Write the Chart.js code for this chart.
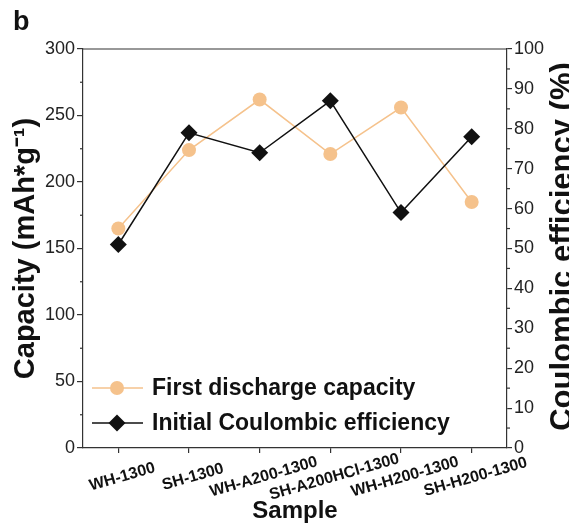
<!DOCTYPE html>
<html>
<head>
<meta charset="utf-8">
<script src="https://cdn.jsdelivr.net/npm/chart.js@4/dist/chart.umd.min.js"></script>
<style>
  body { margin: 0; background: #fff; overflow: hidden; }
</style>
</head>
<body>
<canvas id="chart" width="569" height="530"></canvas>
<script>
const samples = ['WH-1300', 'SH-1300', 'WH-A200-1300', 'SH-A200HCl-1300', 'WH-H200-1300', 'SH-H200-1300'];
const capacity = [165, 224, 262, 221, 256, 185];
const efficiency = [51, 79, 74, 87, 59, 78];
const capacityTicks = [0, 50, 100, 150, 200, 250, 300];
const efficiencyTicks = [0, 10, 20, 30, 40, 50, 60, 70, 80, 90, 100];

const ORANGE = '#F5C28C';
const BLACK = '#111111';
const AXIS = '#333333';
const sans = "'Liberation Sans', Arial, sans-serif";

// minor ticks, top frame line, rotated x labels, right title, legend, panel letter
const decorations = {
  id: 'decorations',
  afterDraw(chart) {
    const ctx = chart.ctx;
    const area = chart.chartArea;
    const x = chart.scales.x;
    const yL = chart.scales.y;
    const yR = chart.scales.y1;

    ctx.save();
    ctx.strokeStyle = AXIS;
    ctx.lineWidth = 1.2;
    ctx.beginPath();
    ctx.moveTo(area.left, area.top);
    ctx.lineTo(area.right, area.top);
    ctx.stroke();

    for (let v = 25; v < 300; v += 50) {
      const py = yL.getPixelForValue(v);
      ctx.beginPath();
      ctx.moveTo(area.left, py);
      ctx.lineTo(area.left - 3, py);
      ctx.stroke();
    }
    for (let v = 5; v < 100; v += 10) {
      const py = yR.getPixelForValue(v);
      ctx.beginPath();
      ctx.moveTo(area.right, py);
      ctx.lineTo(area.right + 3, py);
      ctx.stroke();
    }

    ctx.fillStyle = '#111';
    ctx.font = 'bold 16px ' + sans;
    ctx.textAlign = 'center';
    ctx.textBaseline = 'middle';
    samples.forEach((s, i) => {
      ctx.save();
      ctx.translate(x.getPixelForValue(i) + 4, 477);
      ctx.rotate(-16 * Math.PI / 180);
      ctx.fillText(s, 0, 0);
      ctx.restore();
    });

    ctx.save();
    ctx.translate(563, (area.top + area.bottom) / 2 - 2);
    ctx.rotate(-Math.PI / 2);
    ctx.font = 'bold 31px ' + sans;
    ctx.fillText('Coulombic efficiency (%)', 0, 0);
    ctx.restore();

    // legend
    const items = [
      { label: 'First discharge capacity', color: ORANGE, shape: 'circle', y: 388 },
      { label: 'Initial Coulombic efficiency', color: BLACK, shape: 'diamond', y: 423 }
    ];
    items.forEach(it => {
      ctx.strokeStyle = it.color;
      ctx.lineWidth = 1.5;
      ctx.beginPath();
      ctx.moveTo(92, it.y);
      ctx.lineTo(143, it.y);
      ctx.stroke();
      ctx.fillStyle = it.color;
      ctx.beginPath();
      if (it.shape === 'circle') {
        ctx.arc(117, it.y, 7, 0, Math.PI * 2);
      } else {
        ctx.moveTo(117, it.y - 8.5);
        ctx.lineTo(125.5, it.y);
        ctx.lineTo(117, it.y + 8.5);
        ctx.lineTo(108.5, it.y);
        ctx.closePath();
      }
      ctx.fill();
      ctx.fillStyle = '#111';
      ctx.font = 'bold 23px ' + sans;
      ctx.textAlign = 'left';
      ctx.fillText(it.label, 152, it.y + 1);
    });

    ctx.font = 'bold 27px ' + sans;
    ctx.textBaseline = 'alphabetic';
    ctx.fillText('b', 13, 30);
    ctx.restore();
  }
};

new Chart(document.getElementById('chart'), {
  type: 'line',
  data: {
    labels: samples,
    datasets: [
      {
        label: 'First discharge capacity',
        data: capacity,
        yAxisID: 'y',
        order: 2,
        borderColor: ORANGE,
        borderWidth: 1.5,
        backgroundColor: ORANGE,
        pointStyle: 'circle',
        pointRadius: 7,
        pointBorderWidth: 0,
        tension: 0
      },
      {
        label: 'Initial Coulombic efficiency',
        data: efficiency,
        yAxisID: 'y1',
        order: 1,
        borderColor: BLACK,
        borderWidth: 1.5,
        backgroundColor: BLACK,
        pointStyle: 'rectRot',
        pointRadius: 8.5,
        pointBorderWidth: 0,
        tension: 0
      }
    ]
  },
  options: {
    responsive: false,
    devicePixelRatio: 1,
    animation: false,
    events: [],
    layout: { padding: { top: 49, left: 0, right: 0, bottom: 0 } },
    plugins: {
      legend: { display: false },
      tooltip: { enabled: false }
    },
    scales: {
      x: {
        type: 'category',
        offset: true,
        afterFit: s => { s.height = 82; },
        border: { color: AXIS, width: 1.2 },
        grid: { drawOnChartArea: false, drawTicks: true, tickLength: 5, color: AXIS, lineWidth: 1.2 },
        ticks: { display: false },
        title: {
          display: true,
          text: 'Sample',
          color: '#111',
          font: { family: sans, size: 24, weight: 'bold' },
          padding: { top: 0, bottom: 4 }
        }
      },
      y: {
        position: 'left',
        min: 0,
        max: 300,
        afterFit: s => { s.width = 83; },
        afterBuildTicks: s => { s.ticks = capacityTicks.map(v => ({ value: v })); },
        border: { color: AXIS, width: 1.2 },
        grid: { drawOnChartArea: false, drawTicks: true, tickLength: 6, color: AXIS, lineWidth: 1.2 },
        ticks: { color: '#222', padding: 2, font: { family: sans, size: 18 } },
        title: {
          display: true,
          text: 'Capacity (mAh*g⁻¹)',
          color: '#111',
          font: { family: sans, size: 29, weight: 'bold' },
          padding: { top: 9, bottom: 0 }
        }
      },
      y1: {
        position: 'right',
        min: 0,
        max: 100,
        afterFit: s => { s.width = 62; },
        afterBuildTicks: s => { s.ticks = efficiencyTicks.map(v => ({ value: v })); },
        border: { color: AXIS, width: 1.2 },
        grid: { drawOnChartArea: false, drawTicks: true, tickLength: 5, color: AXIS, lineWidth: 1.2 },
        ticks: { color: '#222', padding: 2, font: { family: sans, size: 18 } }
      }
    }
  },
  plugins: [decorations]
});
</script>
</body>
</html>
